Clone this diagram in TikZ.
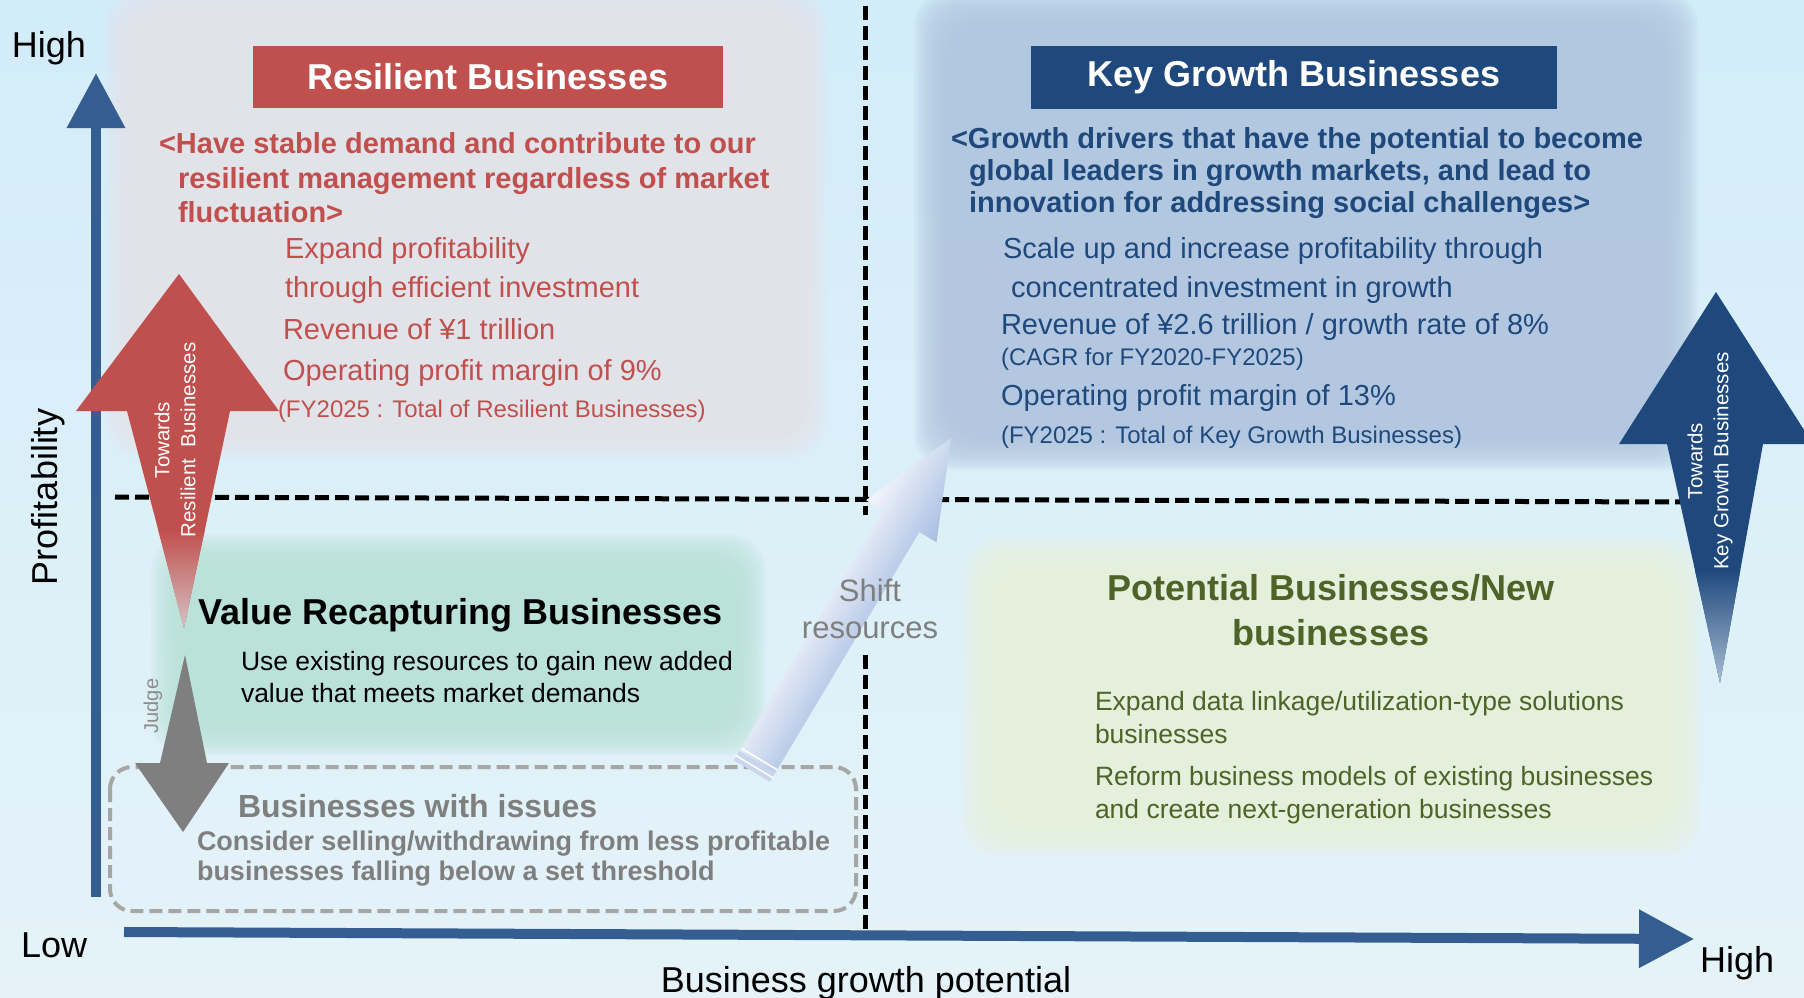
\documentclass[tikz,border=0pt]{standalone}
\usepackage{fontspec}
\setmainfont{Liberation Sans}
\usetikzlibrary{arrows.meta}
\definecolor{rred}{HTML}{C0504D}
\definecolor{kblue}{HTML}{1F497D}
\definecolor{axblue}{HTML}{345E91}
\definecolor{pgreen}{HTML}{4F6228}
\definecolor{igray}{HTML}{7F7F7F}
\definecolor{jgray}{HTML}{8C8C8C}
\definecolor{boxgray}{HTML}{A6A6A6}
\definecolor{bgtop}{HTML}{D2ECF9}
\definecolor{bgbot}{HTML}{E5F3F8}
\definecolor{panR}{HTML}{E8E3E9}
\definecolor{panK}{HTML}{B2C7E0}
\definecolor{panV}{HTML}{BAE2D8}
\definecolor{panP}{HTML}{EAF0DC}
\definecolor{rfade}{HTML}{D6C2C6}
\definecolor{kfade}{HTML}{A9BED4}
\definecolor{shiftL}{HTML}{F6F7FC}
\definecolor{shiftB}{HTML}{A6BDE2}
\definecolor{shiftM}{HTML}{C9D5EC}
\newcommand{\softpanel}[5]{%
  \foreach \d in {-16,-13.5,-11,-8.5,-6,-3.5,-1,1.5,4,6.5,9,11.5,14,16.5}{%
    \fill[#5, fill opacity=0.15, rounded corners=36pt] ({#1+\d},{#2+\d}) rectangle ({#3-\d},{#4-\d});
  }%
}
\begin{document}
\begin{tikzpicture}[x=1pt, y=-1pt,
  every node/.style={inner sep=0pt, outer sep=0pt},
  axis/.style={axblue, line width=10pt, -{Triangle[length=55pt, width=56pt]}},
  qdash/.style={black, line width=5pt, dash pattern=on 14pt off 6pt},
  titlebox/.style={text=white, font=\fontsize{36}{43}\selectfont\bfseries},
  txt/.style={anchor=base west},
  big/.style={font=\fontsize{29}{34}\selectfont},
  bigb/.style={font=\fontsize{29}{34}\selectfont\bfseries},
  small/.style={font=\fontsize{24}{29}\selectfont},
  mid/.style={font=\fontsize{26.5}{32}\selectfont},
  axlabel/.style={text=black, font=\fontsize{36}{43}\selectfont},
  arrlbl/.style={text=white, rotate=90, align=center, font=\fontsize{20.5}{26}\selectfont}
]
\useasboundingbox (0,0) rectangle (1804,998);
% background
\path[top color=bgtop, bottom color=bgbot] (0,0) rectangle (1804,998);
% soft panels
\softpanel{121}{6}{811}{443}{panR}
\softpanel{930}{6}{1682}{454}{panK}
\softpanel{167}{550}{750}{740}{panV}
\softpanel{978}{553}{1684}{840}{panP}
% quadrant dashed lines
\coordinate (hl) at (115,497); \coordinate (hr) at (1682,502);
\draw[qdash] (hl) -- (hr);
\coordinate (vt) at (865,6); \coordinate (vm1) at (865,515);
\coordinate (vm2) at (865,655); \coordinate (vb) at (865,935);
\draw[qdash] (vt) -- (vm1);
\draw[qdash] (vm2) -- (vb);
% businesses with issues box
\draw[boxgray, line width=4pt, dash pattern=on 13pt off 6pt, rounded corners=22pt] (110,767) rectangle (856,911);
% axes
\coordinate (ybot) at (96,897); \coordinate (ytop) at (96,73);
\draw[axis] (ybot) -- (ytop);
\coordinate (xleft) at (124,932); \coordinate (xright) at (1694,939);
\draw[axis] (xleft) -- (xright);
% title boxes
\node[titlebox, fill=rred, minimum width=470pt, minimum height=62pt] (rtitle) at (488,77) {Resilient Businesses};
\node[titlebox, fill=kblue, minimum width=526pt, minimum height=63pt] (ktitle) at (1294,77.5) {Key Growth Businesses};
% red double arrow
\fill[rred] (179,274) -- (279,411) -- (230,411) -- (184,628) -- (127,411) -- (76,411) -- cycle;
\path[top color=rred, bottom color=rfade] (158.2,530) -- (204.8,530) -- (184,628) -- cycle;
% blue double arrow
\fill[kblue] (1716,292) -- (1813,444) -- (1763,444) -- (1720,683) -- (1667,444) -- (1619,444) -- cycle;
\path[top color=kblue, bottom color=kfade] (1694.9,570) -- (1740.3,570) -- (1720,683) -- cycle;
% gray judge arrow
\fill[igray] (185,655) -- (207,763) -- (229,763) -- (183,832) -- (135,763) -- (160,763) -- cycle;
% shift arrow
\begin{scope}[transform canvas={shift={(757.5,761.5)}, rotate=59.1}]
  \fill[shiftM] (-11,-21) rectangle (0,21);
  \draw[white, line width=1.5pt] (-6,-22) -- (-6,22);
  \path[top color=shiftL, bottom color=shiftB] (0,-21) -- (280,-21) -- (280,-41) -- (377,0) -- (280,41) -- (280,21) -- (0,21) -- cycle;
  \draw[white, line width=1.5pt] (3,-21) -- (3,21);
\end{scope}
% red texts
\node[txt, bigb, text=rred] (r1) at (159,153) {<Have stable demand and contribute to our};
\node[txt, bigb, text=rred] (r2) at (178,188) {resilient management regardless of market};
\node[txt, bigb, text=rred] (r3) at (178,222) {fluctuation>};
\node[txt, big, text=rred] (r4) at (285,258) {Expand profitability};
\node[txt, big, text=rred] (r5) at (285,297) {through efficient investment};
\node[txt, big, text=rred] (r6) at (283,339) {Revenue of ¥1 trillion};
\node[txt, big, text=rred] (r7) at (283,380) {Operating profit margin of 9\%};
\node[txt, small, text=rred] (r8) at (278,417) {(FY2025 : Total of Resilient Businesses)};
% blue texts
\node[txt, bigb, text=kblue] (k1) at (951,148) {<Growth drivers that have the potential to become};
\node[txt, bigb, text=kblue] (k2) at (969,180) {global leaders in growth markets, and lead to};
\node[txt, bigb, text=kblue] (k3) at (969,212) {innovation for addressing social challenges>};
\node[txt, big, text=kblue] (k4) at (1003,258) {Scale up and increase profitability through};
\node[txt, big, text=kblue] (k5) at (1011,297) {concentrated investment in growth};
\node[txt, big, text=kblue] (k6) at (1001,334) {Revenue of ¥2.6 trillion / growth rate of 8\%};
\node[txt, small, text=kblue] (k7) at (1001,365) {(CAGR for FY2020-FY2025)};
\node[txt, big, text=kblue] (k8) at (1001,405) {Operating profit margin of 13\%};
\node[txt, small, text=kblue] (k9) at (1001,443) {(FY2025 : Total of Key Growth Businesses)};
% value recapturing
\node[txt, text=black, font=\fontsize{36}{43}\selectfont\bfseries] (v0) at (198,624) {Value Recapturing Businesses};
\node[txt, mid, text=black] (v1) at (241,670) {Use existing resources to gain new added};
\node[txt, mid, text=black] (v2) at (241,702) {value that meets market demands};
% businesses with issues
\node[txt, text=igray, font=\fontsize{32}{38}\selectfont\bfseries] (i0) at (238,817) {Businesses with issues};
\node[txt, text=igray, font=\fontsize{27}{32}\selectfont\bfseries] (i1) at (197,850) {Consider selling/withdrawing from less profitable};
\node[txt, text=igray, font=\fontsize{27}{32}\selectfont\bfseries] (i2) at (197,880) {businesses falling below a set threshold};
% potential
\node[anchor=base, text=pgreen, font=\fontsize{36}{43}\selectfont\bfseries] (p0) at (1331,600) {Potential Businesses/New};
\node[anchor=base, text=pgreen, font=\fontsize{36}{43}\selectfont\bfseries] (p1) at (1331,645) {businesses};
\node[txt, mid, text=pgreen] (p2) at (1095,710) {Expand data linkage/utilization-type solutions};
\node[txt, mid, text=pgreen] (p3) at (1095,743) {businesses};
\node[txt, mid, text=pgreen] (p4) at (1095,785) {Reform business models of existing businesses};
\node[txt, mid, text=pgreen] (p5) at (1095,818) {and create next-generation businesses};
% shift label
\node[anchor=base, text=igray, font=\fontsize{31}{37}\selectfont] (s1) at (870,601) {Shift};
\node[anchor=base, text=igray, font=\fontsize{31}{37}\selectfont] (s2) at (870,638) {resources};
% arrow labels
\node[arrlbl] (rlab) at (175,440) {Towards\\Resilient\ \ Businesses};
\node[arrlbl] (klab) at (1710,461) {Towards\\Key Growth Businesses};
\node[rotate=90, text=jgray, font=\fontsize{20}{24}\selectfont] (judge) at (153,706) {Judge};
% axis labels
\node[axlabel, anchor=base west] (hi) at (12,58) {High};
\node[axlabel, anchor=base west] (lo) at (21,957) {Low};
\node[axlabel, anchor=base west] (hi2) at (1700,972) {High};
\node[axlabel, rotate=90, anchor=base] (prof) at (57,497) {Profitability};
\node[axlabel, anchor=base] (bgp) at (866,992) {Business growth potential};
\end{tikzpicture}
\end{document}
